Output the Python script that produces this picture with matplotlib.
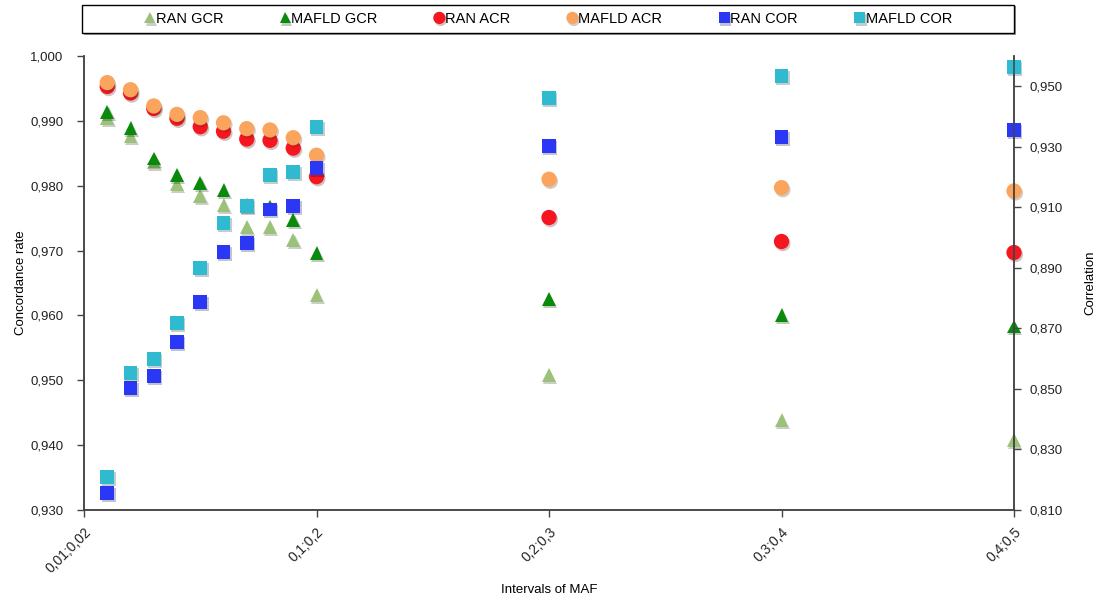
import matplotlib
matplotlib.use("Agg")
import matplotlib.pyplot as plt
import matplotlib.patheffects as pe
from matplotlib.patches import Rectangle
from matplotlib.ticker import FuncFormatter, MultipleLocator

plt.rcParams['font.family'] = ['Liberation Sans', 'DejaVu Sans']

# lower bound of each MAF interval
maf_x = [0.01, 0.02, 0.03, 0.04, 0.05, 0.06, 0.07, 0.08, 0.09, 0.1, 0.2, 0.3, 0.4]
tick_pos = [0.0, 0.1, 0.2, 0.3, 0.4]
tick_labels = ['0,01;0,02', '0,1;0,2', '0,2;0,3', '0,3;0,4', '0,4;0,5']

# concordance rates (left axis)
ran_gcr = [0.9905, 0.9876, 0.9836, 0.9802, 0.9784, 0.9770, 0.9737, 0.9737, 0.9716, 0.9632, 0.9508, 0.9439, 0.9408]
mafld_gcr = [0.9914, 0.9889, 0.9842, 0.9817, 0.9804, 0.9793, 0.9771, 0.9768, 0.9747, 0.9696, 0.9626, 0.9601, 0.9583]
ran_acr = [0.9953, 0.9943, 0.9919, 0.9904, 0.9891, 0.9884, 0.9872, 0.9870, 0.9858, 0.9814, 0.9751, 0.9714, 0.9697]
mafld_acr = [0.9959, 0.9948, 0.9923, 0.9910, 0.9905, 0.9897, 0.9888, 0.9886, 0.9874, 0.9847, 0.9810, 0.9797, 0.9792]
# correlation (right axis)
ran_cor = [0.8155, 0.8502, 0.8544, 0.8656, 0.8788, 0.8953, 0.8983, 0.9093, 0.9105, 0.9229, 0.9303, 0.9333, 0.9356]
mafld_cor = [0.8210, 0.8554, 0.8599, 0.8717, 0.8899, 0.9049, 0.9104, 0.9207, 0.9216, 0.9366, 0.9461, 0.9534, 0.9565]

W, H = 1098, 601
fig = plt.figure(figsize=(W / 100, H / 100), dpi=100)
ax = fig.add_axes([84 / W, 1 - 510 / H, 930 / W, 454 / H])
ax2 = ax.twinx()

shadow = [pe.SimplePatchShadow(offset=(1, -1.5), alpha=0.25), pe.Normal()]

def comma(fmt):
    return FuncFormatter(lambda v, p: format(v, fmt).replace('.', ','))

kw = dict(mec='none', clip_on=False, path_effects=shadow)
h = []
h += ax.plot(maf_x, ran_gcr, '^', ms=10, color='#9cc27a', label='RAN GCR', **kw)
h += ax.plot(maf_x, mafld_gcr, '^', ms=10, color='#0a8a0a', label='MAFLD GCR', **kw)
h += ax.plot(maf_x, ran_acr, 'o', ms=11, color='#f51620', label='RAN ACR', **kw)
h += ax.plot(maf_x, mafld_acr, 'o', ms=11, color='#fba45e', label='MAFLD ACR', **kw)
h += ax2.plot(maf_x, ran_cor, 's', ms=10, color='#2a38f5', label='RAN COR', **kw)
h += ax2.plot(maf_x, mafld_cor, 's', ms=10, color='#2fbad0', label='MAFLD COR', **kw)

ax.set_xlim(0, 0.4)
ax.set_ylim(0.93, 1.0)
ax2.set_ylim(0.81, 0.96)
ax.yaxis.set_major_locator(MultipleLocator(0.01))
ax.yaxis.set_major_formatter(comma('.3f'))
ax2.set_yticks([0.81, 0.83, 0.85, 0.87, 0.89, 0.91, 0.93, 0.95])
ax2.yaxis.set_major_formatter(comma('.3f'))
ax.set_xticks(tick_pos)
ax.set_xticklabels(tick_labels, rotation=45, ha='right', rotation_mode='anchor')

for a in (ax, ax2):
    a.spines['top'].set_visible(False)
    for s in ('left', 'right', 'bottom'):
        a.spines[s].set_color('#444444')
        a.spines[s].set_linewidth(1.1)
    a.tick_params(length=5, width=1, color='#444444', labelsize=9.5, labelcolor='#222222')
ax.tick_params(axis='y', pad=10)
ax2.tick_params(axis='y', pad=6)
ax.tick_params(axis='x', pad=6, labelsize=10)

ax.set_ylabel('Concordance rate', fontsize=9.5, labelpad=2)
ax2.set_ylabel('Correlation', fontsize=9.5, labelpad=16)
ax.set_xlabel('Intervals of MAF', fontsize=9.5, labelpad=6)

# legend box across the top
fig.patches.append(Rectangle((84 / W, 1 - 35 / H), 932 / W, 29 / H, transform=fig.transFigure,
                             facecolor='#999999', edgecolor='none', zorder=0))
fig.patches.append(Rectangle((82 / W, 1 - 33 / H), 932 / W, 28 / H, transform=fig.transFigure,
                             facecolor='white', edgecolor='black', lw=1, zorder=1))
leg = fig.legend(handles=h, loc='center', bbox_to_anchor=(549 / W, 1 - 19 / H), ncol=6,
                 frameon=False, fontsize=10.5, handlelength=0.5, handletextpad=0.15,
                 columnspacing=4.0, markerscale=0.8)

fig.savefig('out.png', dpi=100)
